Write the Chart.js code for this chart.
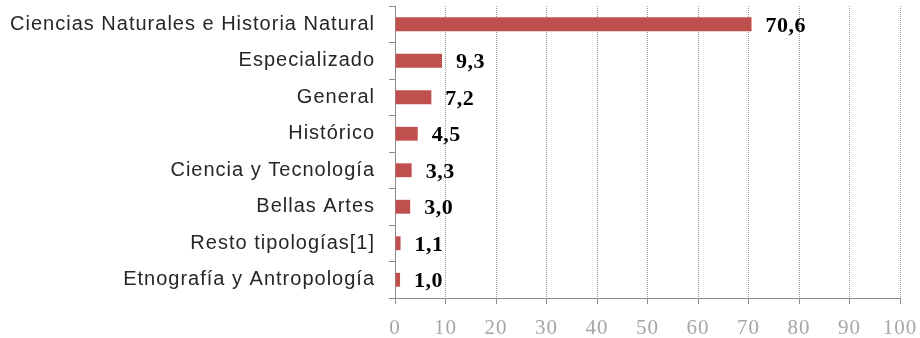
<!DOCTYPE html>
<html lang="es">
<head>
  <meta charset="UTF-8">
  <title>Museos por tipología</title>
  <script src="https://cdn.jsdelivr.net/npm/chart.js"></script>
  <style>
    html, body { margin: 0; padding: 0; background: #fff; }
    .chart-container { width: 920px; height: 338px; position: relative; }
  </style>
</head>
<body>
  <div class="chart-container">
    <canvas id="tipologiaChart" width="920" height="338"></canvas>
  </div>
  <script>
    const categories = [
      'Ciencias Naturales e Historia Natural',
      'Especializado',
      'General',
      'Histórico',
      'Ciencia y Tecnología',
      'Bellas Artes',
      'Resto tipologías[1]',
      'Etnografía y Antropología'
    ];
    const values = [70.6, 9.3, 7.2, 4.5, 3.3, 3.0, 1.1, 1.0];
    const xMin = 0, xMax = 100, xStep = 10;

    // slightly looser letter spacing for the axis labels
    const spacing = {
      id: 'spacing',
      beforeDraw(chart) { chart.ctx.letterSpacing = '1px'; },
      afterDraw(chart) { chart.ctx.letterSpacing = '0px'; }
    };

    // writes the value next to the end of each bar, with a decimal comma
    const valueLabels = {
      id: 'valueLabels',
      afterDatasetsDraw(chart) {
        const ctx = chart.ctx;
        const meta = chart.getDatasetMeta(0);
        ctx.save();
        ctx.letterSpacing = '0.5px';
        ctx.font = 'bold 22px "Liberation Serif", serif';
        ctx.fillStyle = '#000';
        ctx.textAlign = 'left';
        ctx.textBaseline = 'middle';
        meta.data.forEach((bar, i) => {
          const txt = values[i].toFixed(1).replace('.', ',');
          ctx.fillText(txt, bar.x + 14, bar.y + 2);
        });
        ctx.restore();
      }
    };

    new Chart(document.getElementById('tipologiaChart').getContext('2d'), {
      type: 'bar',
      data: {
        labels: categories,
        datasets: [{
          data: values,
          backgroundColor: '#C0504D',
          borderWidth: 0,
          barPercentage: 0.38,
          categoryPercentage: 1
        }]
      },
      options: {
        indexAxis: 'y',
        responsive: false,
        animation: false,
        layout: { padding: { left: 0, right: 20, top: 6, bottom: 0 } },
        plugins: {
          legend: { display: false },
          tooltip: { enabled: false }
        },
        scales: {
          x: {
            min: xMin,
            max: xMax,
            afterFit(scale) {
              scale.height = 40;
              scale.paddingRight = 0;
            },
            grid: {
              color: '#9a9a9a',
              tickLength: 6,
              tickColor: '#8c8c8c'
            },
            border: { display: true, color: '#8c8c8c', width: 1, dash: [1, 1] },
            ticks: {
              stepSize: xStep,
              color: '#a6a6a6',
              padding: 12,
              maxRotation: 0,
              font: { family: '"Liberation Serif", serif', size: 21 }
            }
          },
          y: {
            afterFit(scale) {
              scale.width = 395;
              scale.paddingTop = 0;
              scale.paddingBottom = 0;
            },
            grid: {
              drawOnChartArea: false,
              drawTicks: true,
              tickLength: 6,
              tickColor: '#8c8c8c',
              offset: true
            },
            border: { display: true, color: '#8c8c8c', width: 1 },
            ticks: {
              color: '#262626',
              padding: 14,
              autoSkip: false,
              font: { family: '"Liberation Sans", Arial, sans-serif', size: 20 }
            }
          }
        }
      },
      plugins: [spacing, valueLabels]
    });
  </script>
</body>
</html>
